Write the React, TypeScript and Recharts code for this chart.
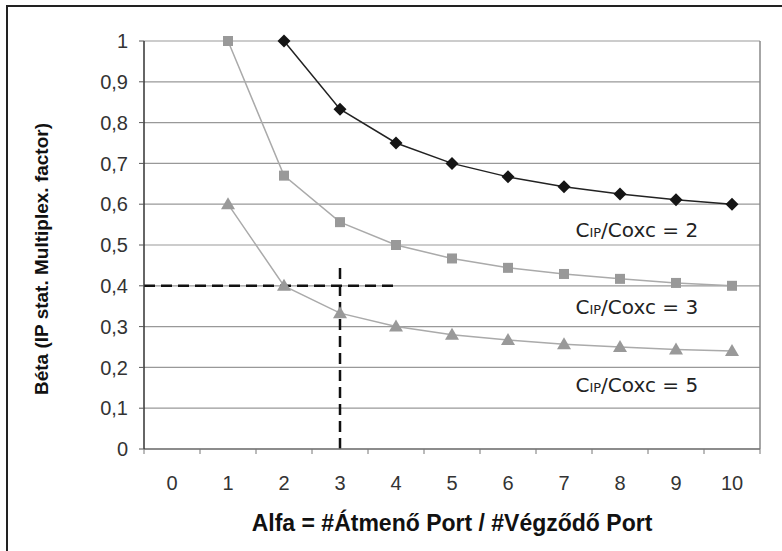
import { LineChart, Line, XAxis, YAxis, CartesianGrid, ReferenceLine, ReferenceDot } from 'recharts'

// Alfa = #Átmenő Port / #Végződő Port
const alpha = [1, 2, 3, 4, 5, 6, 7, 8, 9, 10]
// Béta for CIP/Coxc = 2, 3, 5
const beta2 = [null, 1, 0.833, 0.75, 0.7, 0.667, 0.643, 0.625, 0.611, 0.6]
const beta3 = [1, 0.67, 0.556, 0.5, 0.467, 0.444, 0.429, 0.417, 0.407, 0.4]
const beta5 = [0.6, 0.4, 0.333, 0.3, 0.28, 0.267, 0.257, 0.25, 0.244, 0.24]

const xTicks = [0, 1, 2, 3, 4, 5, 6, 7, 8, 9, 10]
const yTicks = [0, 0.1, 0.2, 0.3, 0.4, 0.5, 0.6, 0.7, 0.8, 0.9, 1]

// curve labels: ratio, alfa and béta where the text sits
const ratios = [2, 3, 5]
const labelAlpha = [8.3, 8.3, 8.3]
const labelBeta = [0.537, 0.348, 0.157]

// dashed guide: alfa = 3 -> béta = 0.4
const guideAlpha = 3
const guideBeta = 0.4
const guideTop = 0.45
const guideRight = 4

const data = alpha.map((a, i) => ({
  alpha: a,
  b2: beta2[i],
  b3: beta3[i],
  b5: beta5[i],
}))

const W = 782
const H = 551
const M = { top: 41, right: 22, left: 0, bottom: 0 }
const Y_W = 144
const X_H = 102
const AXIS_Y = H - X_H
const HALF = (W - Y_W - M.right) / 11 / 2

const FONT = '"Liberation Sans", Arial, sans-serif'

const diamond = (p: any) => {
  if (p.value == null || p.cy == null) return <g key={`d-${p.index}`} />
  const s = 6.5
  return (
    <path
      key={`d-${p.index}`}
      d={`M${p.cx},${p.cy - s}L${p.cx + s},${p.cy}L${p.cx},${p.cy + s}L${p.cx - s},${p.cy}Z`}
      fill="#151515"
    />
  )
}

const square = (p: any) => {
  if (p.value == null || p.cy == null) return <g key={`s-${p.index}`} />
  return <rect key={`s-${p.index}`} x={p.cx - 5} y={p.cy - 5} width={10} height={10} fill="#999" />
}

const triangle = (p: any) => {
  if (p.value == null || p.cy == null) return <g key={`t-${p.index}`} />
  return (
    <path
      key={`t-${p.index}`}
      d={`M${p.cx},${p.cy - 7}L${p.cx + 7},${p.cy + 5}L${p.cx - 7},${p.cy + 5}Z`}
      fill="#999"
    />
  )
}

const XTick = (props: any) => {
  const { x, payload, index } = props
  return (
    <g>
      <line x1={x + HALF} y1={AXIS_Y} x2={x + HALF} y2={AXIS_Y + 5} stroke="#777" />
      {index === 0 && <line x1={x - HALF} y1={AXIS_Y} x2={x - HALF} y2={AXIS_Y + 5} stroke="#777" />}
      <text x={x} y={AXIS_Y + 41} textAnchor="middle" fontSize={20} fill="#333" fontFamily={FONT}>
        {payload.value}
      </text>
    </g>
  )
}

const fmtY = (v: number) => (v === 0 || v === 1 ? String(v) : v.toFixed(1).replace('.', ','))

const ratioLabel = (n: number) => (props: any) => {
  const vb = props.viewBox || {}
  const cx = vb.x + (vb.width || 0) / 2
  const cy = vb.y + (vb.height || 0) / 2
  return (
    <text x={cx} y={cy + 7} textAnchor="middle" fontSize={20} fill="#222" fontFamily='"DejaVu Sans", sans-serif'>
      C<tspan fontSize={13}>IP</tspan>/Coxc = {n}
    </text>
  )
}

export default function App() {
  return (
    <div style={{ position: 'absolute', left: 0, top: 0, width: W, height: H, background: '#fff' }}>
      <div style={{ position: 'absolute', left: 6, top: 5, width: 2, height: H - 5, background: '#222' }} />
      <div style={{ position: 'absolute', left: 6, top: 5, width: W - 6, height: 2, background: '#222' }} />
      <div style={{ position: 'absolute', left: 0, top: 0 }}>
        <LineChart width={W} height={H} data={data} margin={M}>
          <CartesianGrid vertical={false} stroke="#999" strokeWidth={1.2} />
          <XAxis
            dataKey="alpha"
            type="number"
            domain={[-0.5, 10.5]}
            ticks={xTicks}
            interval={0}
            height={X_H}
            tickLine={false}
            tick={<XTick />}
            axisLine={{ stroke: '#777', strokeWidth: 1.5 }}
            label={{
              content: () => (
                <text x={452} y={531} textAnchor="middle" fontSize={23} fontWeight="bold" fill="#111" fontFamily={FONT}>
                  Alfa = #Átmenő Port / #Végződő Port
                </text>
              ),
            }}
          />
          <YAxis
            type="number"
            domain={[0, 1]}
            ticks={yTicks}
            interval={0}
            width={Y_W}
            tickSize={5}
            tickMargin={11}
            tickFormatter={fmtY}
            tick={{ fontSize: 20, fill: '#333', fontFamily: FONT }}
            tickLine={{ stroke: '#555' }}
            axisLine={{ stroke: '#333', strokeWidth: 1.5 }}
            label={{
              content: () => (
                <text
                  transform="translate(48,259) rotate(-90)"
                  textAnchor="middle"
                  fontSize={19}
                  fontWeight="bold"
                  fill="#111"
                  fontFamily={FONT}
                >
                  Béta (IP stat. Multiplex. factor)
                </text>
              ),
            }}
          />
          <ReferenceLine x={10.5} stroke="#888" strokeWidth={1.5} />
          <ReferenceLine
            segment={[{ x: -0.5, y: guideBeta }, { x: guideRight, y: guideBeta }]}
            stroke="#111"
            strokeWidth={2.5}
            strokeDasharray="11 6"
          />
          <ReferenceLine
            segment={[{ x: guideAlpha, y: 0 }, { x: guideAlpha, y: guideTop }]}
            stroke="#111"
            strokeWidth={2.5}
            strokeDasharray="11 6"
          />
          <Line dataKey="b3" stroke="#aaa" strokeWidth={1.5} dot={square} activeDot={false} isAnimationActive={false} />
          <Line dataKey="b5" stroke="#aaa" strokeWidth={1.5} dot={triangle} activeDot={false} isAnimationActive={false} />
          <Line dataKey="b2" stroke="#222" strokeWidth={1.5} dot={diamond} activeDot={false} isAnimationActive={false} />
          {ratios.map((n, i) => (
            <ReferenceDot
              key={`lbl-${n}`}
              x={labelAlpha[i]}
              y={labelBeta[i]}
              r={1}
              fill="none"
              stroke="none"
              label={{ content: ratioLabel(n) }}
            />
          ))}
        </LineChart>
      </div>
    </div>
  )
}
